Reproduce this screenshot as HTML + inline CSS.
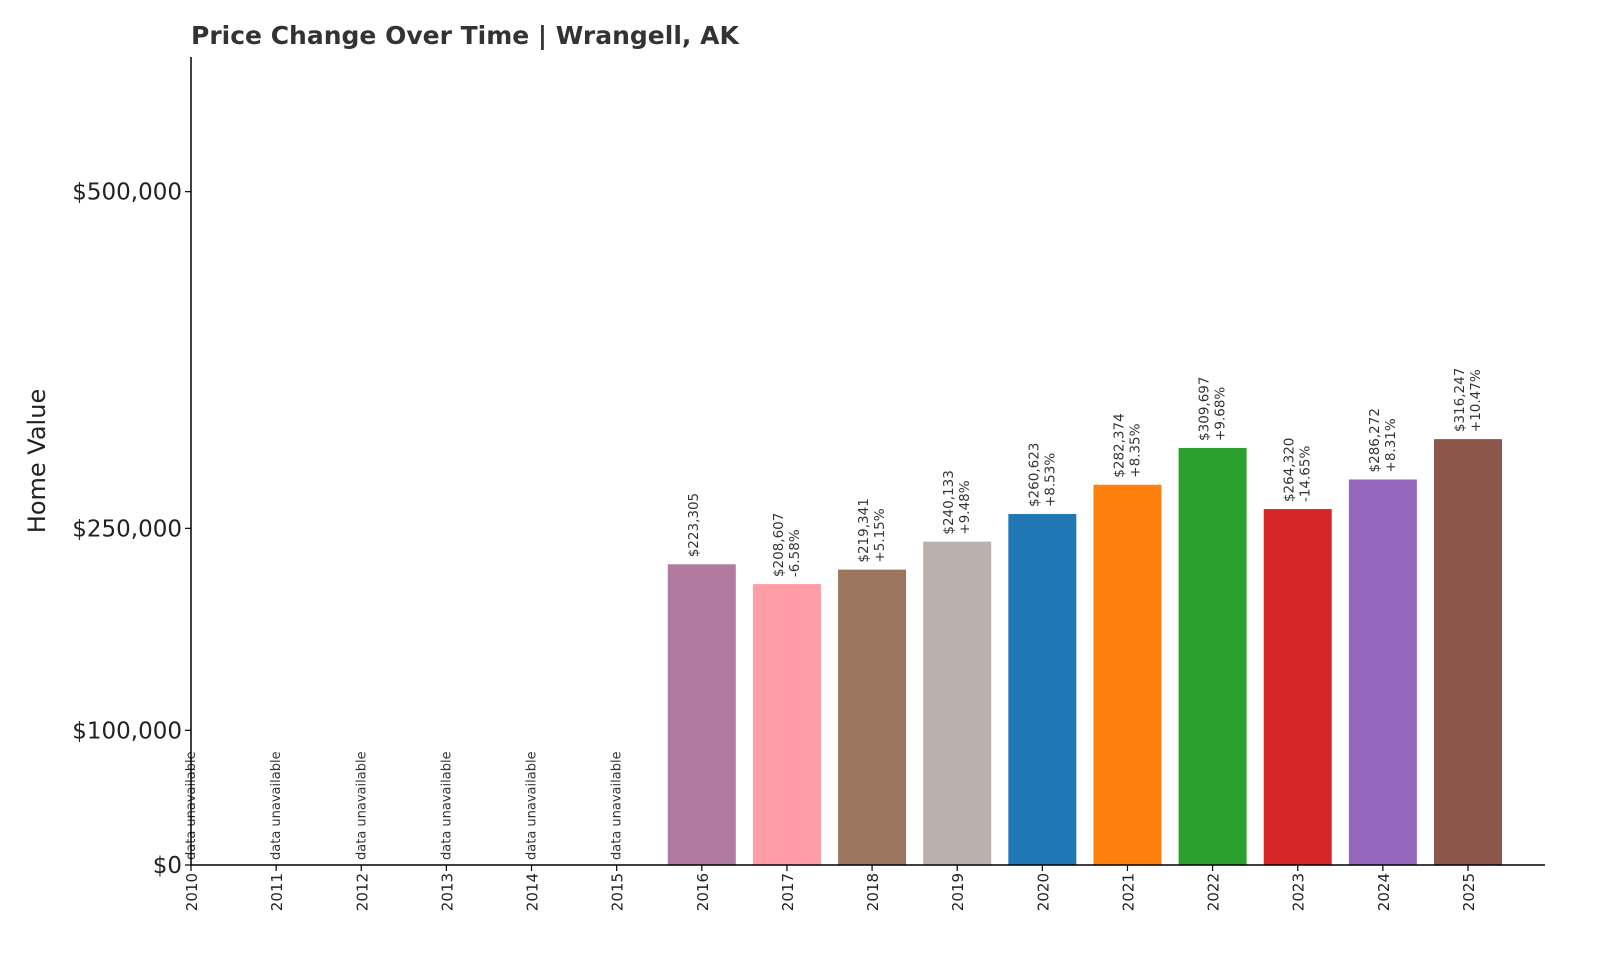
<!DOCTYPE html>
<html><head><meta charset="utf-8"><style>
body{margin:0;background:#fff;}
svg text{font-family:"DejaVu Sans","Liberation Sans",sans-serif;}
</style></head><body>
<svg id="chart" width="1600" height="960" xmlns="http://www.w3.org/2000/svg">
<text x="191" y="44" font-size="25" font-weight="bold" fill="#333">Price Change Over Time | Wrangell, AK</text>
<text transform="translate(45,461) rotate(-90)" text-anchor="middle" font-size="24" fill="#222">Home Value</text>
<g id="bars"></g>
<line x1="191" y1="57" x2="191" y2="865" stroke="#000" stroke-width="1.5"/>
<line x1="191" y1="865" x2="1545" y2="865" stroke="#000" stroke-width="1.5"/>
<g id="ticks"></g>
</svg>
<script>
const years=["2010","2011","2012","2013","2014","2015","2016","2017","2018","2019","2020","2021","2022","2023","2024","2025"];
const values=[null,null,null,null,null,null,223305,208607,219341,240133,260623,282374,309697,264320,286272,316247];
const changes=[null,null,null,null,null,null,null,"-6.58%","+5.15%","+9.48%","+8.53%","+8.35%","+9.68%","-14.65%","+8.31%","+10.47%"];
const colors=["#b07aa1","#b07aa1","#b07aa1","#b07aa1","#b07aa1","#b07aa1","#b07aa1","#ff9da7","#9c755f","#bab0ac","#1f77b4","#ff7f0e","#2ca02c","#d62728","#9467bd","#8c564b"];
const yTicks=[0,100000,250000,500000];
const yLabels=["$0","$100,000","$250,000","$500,000"];
const NS="http://www.w3.org/2000/svg";
const x=i=>191+i*(1277/15);
const y=v=>865-v*(808/600000);
function mk(tag,attrs,parent,txt){const e=document.createElementNS(NS,tag);for(const k in attrs)e.setAttribute(k,attrs[k]);if(txt!==undefined)e.textContent=txt;parent.appendChild(e);return e;}
const bars=document.getElementById('bars'),ticks=document.getElementById('ticks');
years.forEach((yr,i)=>{
  const cx=x(i),v=values[i];
  if(v===null){
    const t=mk('text',{transform:`translate(${cx+4},860) rotate(-90)`,'font-size':13,fill:'#333'},bars,'data unavailable');
    
    
  }else{
    const r=mk('rect',{x:cx-34,y:y(v),width:68,height:865-y(v),fill:colors[i]},bars);
    
    
    const top=y(v)-7;
    const t1=mk('text',{transform:`translate(${cx-4},${top}) rotate(-90)`,'font-size':13.5,fill:'#333'},bars,'$'+v.toLocaleString('en-US'));
    
    
    if(changes[i]){
      const t2=mk('text',{transform:`translate(${cx+12},${top}) rotate(-90)`,'font-size':13.5,fill:'#333'},bars,changes[i]);
      
      
    }
  }
  mk('line',{x1:cx,y1:865,x2:cx,y2:871,stroke:'#000','stroke-width':1.2},ticks);
  const tl=mk('text',{transform:`translate(${cx+6},873) rotate(-90)`,'font-size':15,fill:'#222','text-anchor':'end'},ticks,yr);
  
  
});
yTicks.forEach((v,i)=>{
  mk('line',{x1:185,y1:y(v),x2:191,y2:y(v),stroke:'#000','stroke-width':1.2},ticks);
  const t=mk('text',{x:182,y:y(v)+8,'font-size':23,fill:'#222','text-anchor':'end'},ticks,yLabels[i]);
  
  
});
</script>
</body></html>
